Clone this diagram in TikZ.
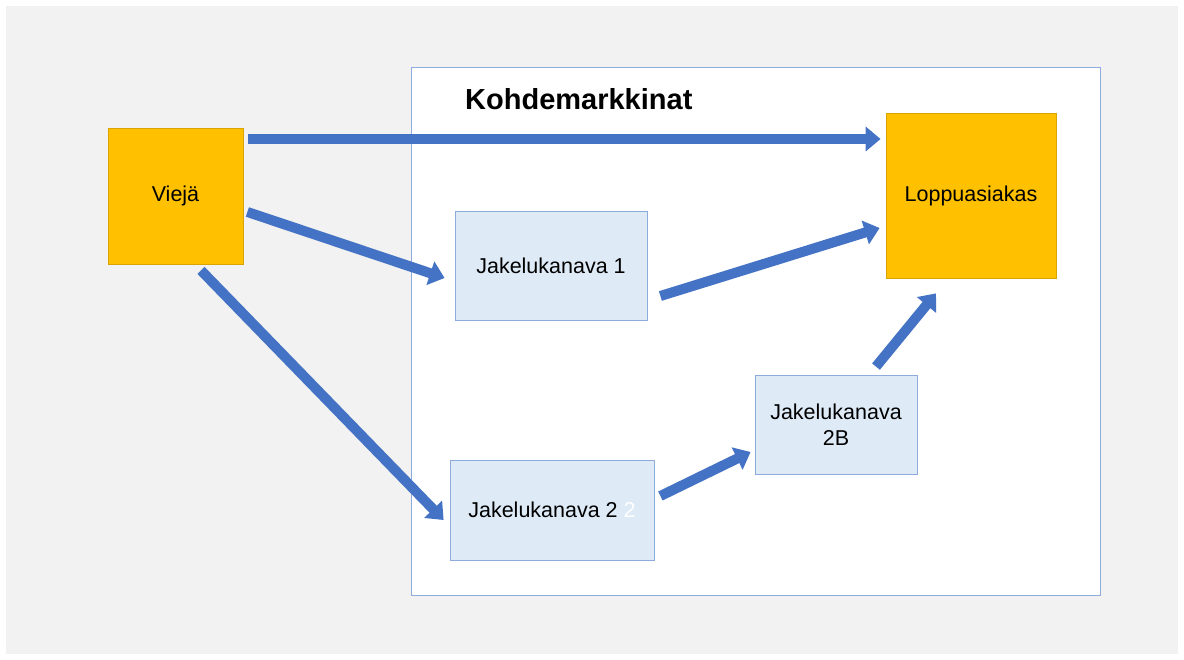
\documentclass[tikz,border=0pt]{standalone}
\usepackage{fontspec}
\setmainfont{Liberation Sans}
\usetikzlibrary{arrows.meta}
\definecolor{bggray}{HTML}{F2F2F2}
\definecolor{orangefill}{HTML}{FFC000}
\definecolor{orangeedge}{HTML}{D9A300}
\definecolor{bluefill}{HTML}{DEEBF7}
\definecolor{blueedge}{HTML}{8FAADC}
\definecolor{arrowblue}{HTML}{4472C4}
\tikzset{
  orangebox/.style={draw=orangeedge, fill=orangefill, line width=0.8pt, inner sep=0pt, font=\fontsize{21.5}{25}\selectfont},
  chanbox/.style={draw=blueedge, fill=bluefill, line width=0.8pt, inner sep=0pt, align=center, font=\fontsize{21.5}{26}\selectfont},
  blockarrow/.style={draw=arrowblue, line width=10pt, -{Triangle[width=24pt,length=15pt]}, fill=arrowblue}
}
\begin{document}
\begin{tikzpicture}[x=1pt,y=-1pt]
\useasboundingbox (0,0) rectangle (1184,660);
\fill[white] (0,0) rectangle (1184,660);
\fill[bggray] (6,6) rectangle (1178,654);
% market box
\node[draw=blueedge, fill=white, line width=0.8pt, minimum width=689pt, minimum height=528pt, inner sep=0pt] (market) at (755.5,331) {};
\node[anchor=west, inner sep=0pt, font=\bfseries\fontsize{29}{34}\selectfont] (title) at (465,99) {Kohdemarkkinat};
% nodes
\node[orangebox, minimum width=135pt, minimum height=136pt] (vieja) at (175.5,196) {Viejä};
\node[orangebox, minimum width=170pt, minimum height=165pt] (lopp) at (971,195.5) {Loppuasiakas};
\node[chanbox, minimum width=192pt, minimum height=109pt] (j1) at (551,265.5) {Jakelukanava 1};
\node[chanbox, minimum width=204pt, minimum height=100pt] (j2) at (552,510) {Jakelukanava 2 \textcolor{white}{2}};
\node[chanbox, minimum width=162pt, minimum height=99pt] (j2b) at (836,424.5) {Jakelukanava\\2B};
% arrows
\draw[blockarrow] ([shift={(5,-57)}]vieja.east) -- ([shift={(-5,-56.5)}]lopp.west);
\draw[blockarrow] ([shift={(4,16)}]vieja.east) -- ([shift={(-10,12.5)}]j1.west);
\draw[blockarrow] ([shift={(25.5,6)}]vieja.south) -- ([shift={(-6,10)}]j2.west);
\draw[blockarrow] ([shift={(13,30.5)}]j1.east) -- ([shift={(-6,32.5)}]lopp.west);
\draw[blockarrow] ([shift={(6,-14)}]j2.east) -- ([shift={(-4,27.5)}]j2b.west);
\draw[blockarrow] ([shift={(40,-8)}]j2b.north) -- ([shift={(-35,15)}]lopp.south);
\end{tikzpicture}
\end{document}
